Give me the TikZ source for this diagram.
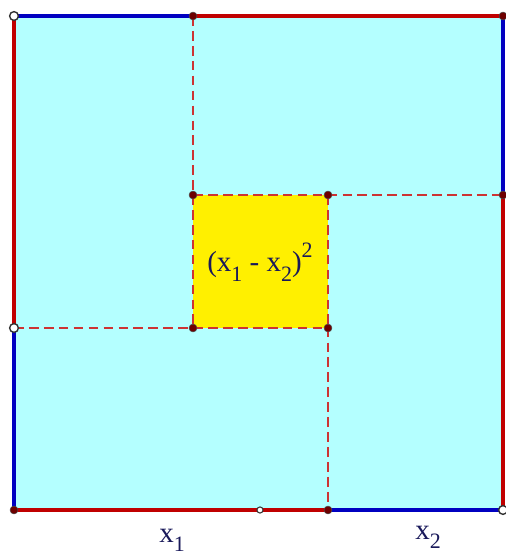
\documentclass[tikz,border=0pt]{standalone}
\usepackage{fontspec}
\setmainfont{Liberation Serif}
\definecolor{sqcyan}{RGB}{180,255,255}
\definecolor{sqyellow}{RGB}{255,240,0}
\definecolor{sqred}{RGB}{192,0,0}
\definecolor{sqblue}{RGB}{0,0,192}
\definecolor{sqdot}{RGB}{110,0,0}
\definecolor{sqtext}{RGB}{25,25,90}
\newcommand{\lowidx}[1]{\raisebox{-0.32em}{\fontsize{12.5}{12.5}\selectfont #1}}
\newcommand{\highidx}[1]{\raisebox{0.5em}{\fontsize{12.5}{12.5}\selectfont #1}}
\tikzset{
	edge/.style={line width=1.8pt},
	guide/.style={sqred!80!white, line width=0.6pt, dash pattern=on 5.5pt off 3pt},
	fulldot/.style={circle, fill=sqdot, draw=black!70, line width=0.3pt, inner sep=0pt, minimum size=4.5pt},
	opendot/.style={circle, fill=white, draw=black!80, line width=0.8pt, inner sep=0pt, minimum size=5pt},
	lbl/.style={text=sqtext, font=\fontsize{16.5}{18}\selectfont}
}
\begin{document}
\begin{tikzpicture}[x=0.02cm, y=-0.02cm]
	\useasboundingbox				(0,0) rectangle (506,554);
	% corner and division points
	\coordinate (tl)	at (14,16);
	\coordinate (tr)	at (503,16);
	\coordinate (br)	at (503,510);
	\coordinate (bl)	at (14,510);
	\coordinate (ta)	at (193,16);
	\coordinate (rb)	at (503,195);
	\coordinate (ba)	at (328,510);
	\coordinate (lb)	at (14,328);
	\coordinate (bm)	at (260,510);
	\coordinate (ya)	at (193,195);
	\coordinate (yb)	at (328,195);
	\coordinate (yc)	at (328,328);
	\coordinate (yd)	at (193,328);
	% fills
	\fill[sqcyan]					(tl) rectangle (br);
	\fill[sqyellow]					(ya) rectangle (yc);
	% dashed guides
	\draw[guide]					(ta) -- (ya) -- (yb) -- (rb);
	\draw[guide]					(lb) -- (yd) -- (yc) -- (ba);
	\draw[guide]					(ya) -- (yd);
	\draw[guide]					(yb) -- (yc);
	% sides
	\draw[edge, sqblue]				(tl) -- (ta);
	\draw[edge, sqred]				(ta) -- (tr);
	\draw[edge, sqblue]				(tr) -- (rb);
	\draw[edge, sqred]				(rb) -- (br);
	\draw[edge, sqblue]				(br) -- (ba);
	\draw[edge, sqred]				(ba) -- (bl);
	\draw[edge, sqblue]				(bl) -- (lb);
	\draw[edge, sqred]				(lb) -- (tl);
	% points
	\foreach \p in {ta, tr, rb, bl, ba, ya, yb, yc, yd}
		\node[fulldot] at (\p) {};
	\foreach \p in {tl, lb, br}
		\node[opendot] at (\p) {};
	\node[opendot, minimum size=3.5pt, line width=0.6pt] at (bm) {};
	% labels
	\node[lbl] (sq)	at (260,262)	{(x\lowidx{1} - x\lowidx{2})\highidx{2}};
	\node[lbl] (xa)	at (172,540)	{x\lowidx{1}};
	\node[lbl] (xb)	at (428,537)	{x\lowidx{2}};
\end{tikzpicture}
\end{document}
